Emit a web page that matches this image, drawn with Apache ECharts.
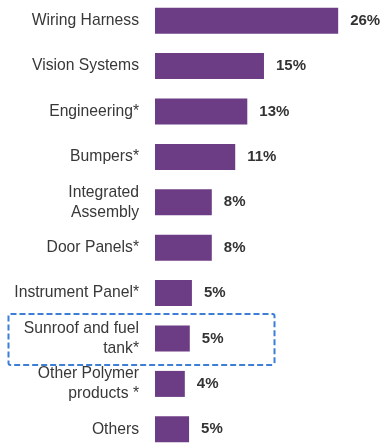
<!DOCTYPE html>
<html>
<head>
<meta charset="utf-8">
<script src="https://cdn.jsdelivr.net/npm/echarts@6/dist/echarts.min.js"></script>
<style>
  html, body { margin: 0; padding: 0; background: #fff; }
  #chart { width: 381px; height: 444px; }
</style>
</head>
<body>
<div id="chart"></div>
<script>
const categories = [
  'Wiring Harness',
  'Vision Systems',
  'Engineering*',
  'Bumpers*',
  'Integrated\nAssembly',
  'Door Panels*',
  'Instrument Panel*',
  'Sunroof and fuel\ntank*',
  'Other Polymer\nproducts *',
  'Others'
];
const shares = [25.8, 15.35, 13.0, 11.3, 8.0, 8.0, 5.2, 4.9, 4.2, 4.8];
const highlighted = 'Sunroof and fuel\ntank*';

const chart = echarts.init(document.getElementById('chart'));

chart.setOption({
  animation: false,
  grid: { left: 155, right: 13, top: -2, bottom: -8, outerBoundsMode: 'none' },
  xAxis: {
    type: 'value',
    min: 0,
    max: 30,
    show: false
  },
  yAxis: {
    type: 'category',
    data: categories,
    inverse: true,
    axisLine: { show: false },
    axisTick: { show: false },
    axisLabel: {
      margin: 16,
      fontFamily: 'Liberation Sans, Arial, sans-serif',
      fontSize: 15.7,
      lineHeight: 20,
      color: '#383838',
      align: 'right'
    }
  },
  series: [{
    type: 'bar',
    data: shares,
    barWidth: 26,
    itemStyle: { color: '#6c3d84' },
    label: {
      show: true,
      position: 'right',
      distance: 12,
      formatter: p => Math.round(p.value) + '%',
      fontFamily: 'Liberation Sans, Arial, sans-serif',
      fontWeight: 'bold',
      fontSize: 15,
      color: '#333'
    }
  }]
});

// dashed box round the highlighted row
const cy = chart.convertToPixel({ yAxisIndex: 0 }, highlighted);
chart.setOption({
  graphic: [{
    type: 'rect',
    shape: { x: 8.5, y: cy - 24.5, width: 266, height: 51, r: 2 },
    style: {
      fill: 'none',
      stroke: '#3d7fd6',
      lineWidth: 2,
      lineDash: [6, 3]
    },
    z: 10
  }]
});
</script>
</body>
</html>
